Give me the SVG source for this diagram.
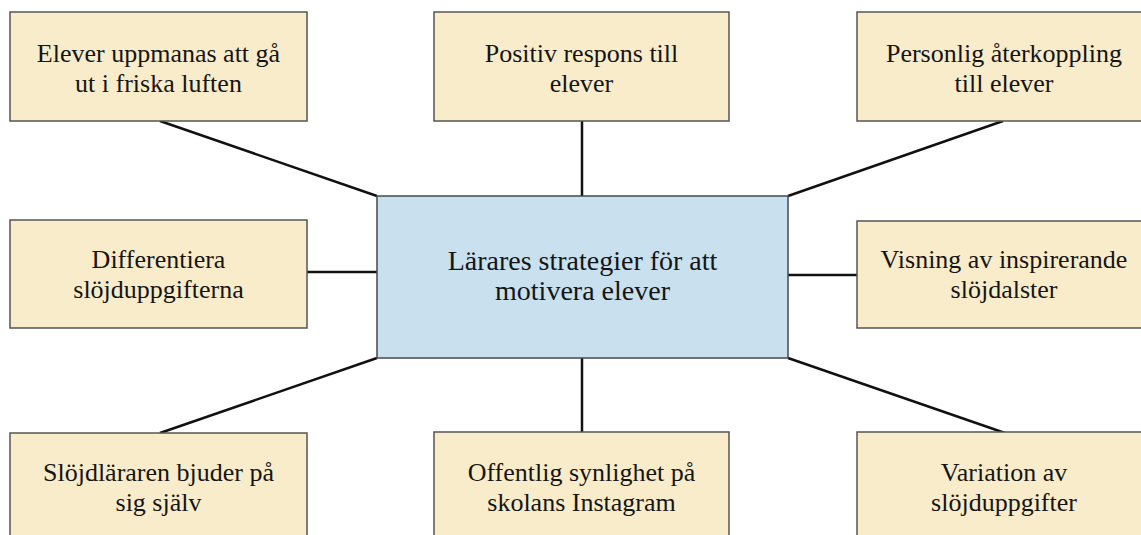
<svg xmlns="http://www.w3.org/2000/svg" width="1141" height="535" viewBox="0 0 1141 535">
  <style>
    .box { fill: #f9eccb; stroke: #555555; stroke-width: 1.5; }
    .hub { fill: #c9e0ee; stroke: #444a50; stroke-width: 1.5; }
    .lbl { font-family: "Liberation Serif", "Times New Roman", serif; font-size: 26px; fill: #151515; text-anchor: middle; }
    .hub-lbl { font-size: 28px; }
    .link { stroke: #111111; stroke-width: 2.5; fill: none; }
  </style>
  <rect width="1141" height="535" fill="#ffffff"/>

  <g id="connectors">
    <line class="link" x1="160" y1="121" x2="377" y2="196"/>
    <line class="link" x1="582" y1="121" x2="582" y2="196"/>
    <line class="link" x1="1003" y1="121" x2="788" y2="196"/>
    <line class="link" x1="307" y1="272" x2="377" y2="272"/>
    <line class="link" x1="788" y1="275" x2="857" y2="275"/>
    <line class="link" x1="160" y1="433" x2="377" y2="358"/>
    <line class="link" x1="582" y1="358" x2="582" y2="433"/>
    <line class="link" x1="1005" y1="433" x2="788" y2="358"/>
  </g>

  <g id="center">
    <rect class="hub" x="377" y="196" width="411" height="162"/>
    <text class="lbl hub-lbl" x="582.5" y="270">Lärares strategier för att</text>
    <text class="lbl hub-lbl" x="582.5" y="300">motivera elever</text>
  </g>

  <g id="node-top-left">
    <rect class="box" x="10" y="12" width="297" height="109"/>
    <text class="lbl" x="158.5" y="62">Elever uppmanas att gå</text>
    <text class="lbl" x="158.5" y="92">ut i friska luften</text>
  </g>

  <g id="node-top-middle">
    <rect class="box" x="434" y="12" width="295" height="109"/>
    <text class="lbl" x="581.5" y="62">Positiv respons till</text>
    <text class="lbl" x="581.5" y="92">elever</text>
  </g>

  <g id="node-top-right">
    <rect class="box" x="857" y="12" width="297" height="109"/>
    <text class="lbl" x="1004" y="62">Personlig återkoppling</text>
    <text class="lbl" x="1004" y="92">till elever</text>
  </g>

  <g id="node-middle-left">
    <rect class="box" x="10" y="220" width="297" height="108"/>
    <text class="lbl" x="158.5" y="268">Differentiera</text>
    <text class="lbl" x="158.5" y="298">slöjduppgifterna</text>
  </g>

  <g id="node-middle-right">
    <rect class="box" x="857" y="221" width="297" height="107"/>
    <text class="lbl" x="1004" y="268">Visning av inspirerande</text>
    <text class="lbl" x="1004" y="298">slöjdalster</text>
  </g>

  <g id="node-bottom-left">
    <rect class="box" x="10" y="433" width="297" height="115"/>
    <text class="lbl" x="158.5" y="481">Slöjdläraren bjuder på</text>
    <text class="lbl" x="158.5" y="511">sig själv</text>
  </g>

  <g id="node-bottom-middle">
    <rect class="box" x="434" y="432" width="295" height="116"/>
    <text class="lbl" x="581.5" y="481">Offentlig synlighet på</text>
    <text class="lbl" x="581.5" y="511">skolans Instagram</text>
  </g>

  <g id="node-bottom-right">
    <rect class="box" x="857" y="432" width="297" height="116"/>
    <text class="lbl" x="1004" y="481">Variation av</text>
    <text class="lbl" x="1004" y="511">slöjduppgifter</text>
  </g>
</svg>
